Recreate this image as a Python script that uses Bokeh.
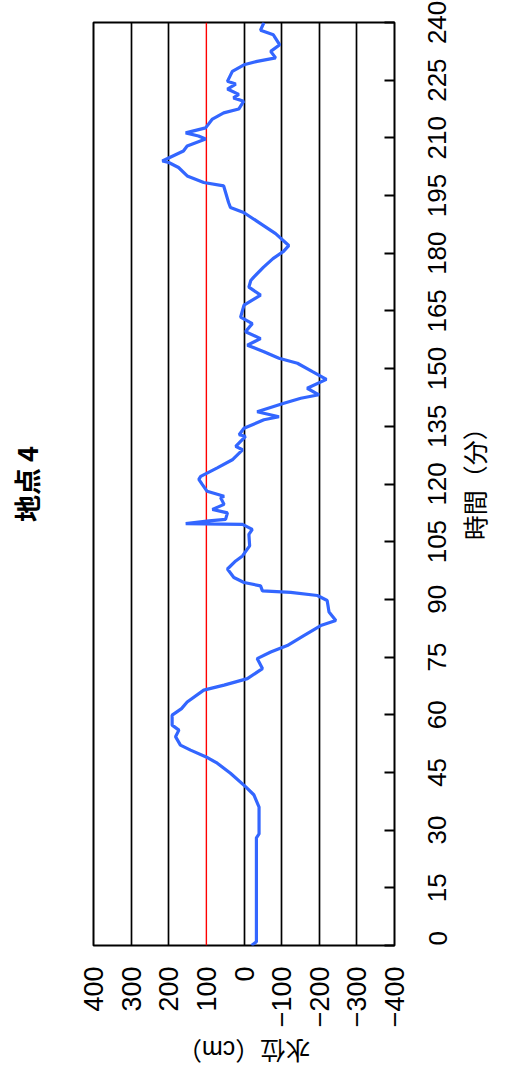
from math import pi
from bokeh.plotting import figure
from bokeh.models import Range1d, FixedTicker, Span, LinearAxis
from bokeh.embed import file_html
from bokeh.resources import INLINE

# ---- data ----
time_min = [0, 1, 28, 29, 36, 39.2, 41.3, 44.8, 47.4, 49.1, 50.8, 52.1, 54.3, 56, 57.3,
            59.9, 61.6, 63.3, 66.4, 67.7, 69.4, 72, 74.6, 76.3, 78, 80.6, 83.2, 84.5,
            86.7, 89.7, 91, 91.8, 92.2, 93.5, 94.4, 95.7, 97.9, 100, 101.3, 103.9,
            106.9, 108.2, 109.5, 109.7, 110.4, 110.8, 112.5, 113.4, 114.7, 116.4,
            116.8, 118.1, 119.9, 121.2, 122, 124.2, 126.3, 128.9, 129.8, 132.4, 132.8,
            134.5, 136.7, 137.5, 138.8, 141, 142.3, 143.2, 144.9, 147.2, 149.2, 151.4,
            152.7, 154.4, 156.1, 157.8, 159.6, 161.7, 163.4, 166.5, 169.1, 171.2,
            172.9, 173.8, 176.4, 178.6, 180.5, 182, 185.1, 187.2, 190.6, 191.9, 193.2,
            197.5, 198.4, 200.1, 202.3, 203.6, 204, 206.6, 207.9, 209.7, 210.5, 211.3,
            212.6, 214.9, 216.5, 217.5, 219.5, 220.4, 221.3, 222.7, 224, 224.7, 227.3,
            229, 229.9, 230.8, 232.5, 234.2, 236.8, 238, 240]
level_cm = [-20, -33, -33, -40, -40, -26, -4, 36, 71, 102, 142, 169, 182, 173, 191,
            191, 166, 151, 107, 53, -9, -49, -35, -71, -115, -159, -204, -244,
            -226, -221, -195, -124, -49, -44, 0, 27, 44, 22, 4, -15,
            -13, -22, 4, 155, 93, 49, 44, 84, 53, 62,
            53, 98, 111, 120, 115, 71, 31, 4, 22, -4, 13,
            0, -53, -93, -35, -106, -151, -199, -168, -219, -182, -142,
            -93, -53, -9, -44, -4, -22, 9, 0, -44, -13,
            -18, -26, -52, -77, -105, -119, -84, -52, 1, 36, 41,
            54, 107, 151, 174, 200, 217, 161, 151, 102, 121, 155,
            102, 84, 54, 14, 1, 28, 14, 44, 22, 44, 31,
            0, -35, -84, -71, -95, -78, -44, -53]

level_ticks = [400, 300, 200, 100, 0, -100, -200, -300, -400]
level_tick_labels = ["400", "300", "200", "100", "0", "−100", "−200", "−300", "−400"]
time_ticks = [0, 15, 30, 45, 60, 75, 90, 105, 120, 135, 150, 165, 180, 195, 210, 225, 240]
time_tick_labels = [str(t) for t in time_ticks]
grid_levels = [300, 200, 0, -100, -200, -300]
warning_level = 100

title_text = "地点 4"
time_label = "時間（分）"
level_label = "水位（cm）"

NUM_FONT = "Liberation Sans"
JP_FONT = "Noto Sans CJK JP"
LABEL_FONT = "Liberation Sans, Noto Sans CJK JP"

# ---- layout (pixels) ----
W, H = 508, 1080
B_LEFT, B_RIGHT, B_TOP, B_BOTTOM = 93, 114, 22, 132
FRAME_W = W - B_LEFT - B_RIGHT
FRAME_H = H - B_TOP - B_BOTTOM

level_range = Range1d(400, -400)
time_range = Range1d(0, 240)
px_per_min = FRAME_H / (time_range.end - time_range.start)
px_per_cm = FRAME_W / abs(level_range.start - level_range.end)

p = figure(width=W, height=H, output_backend="svg", toolbar_location=None,
           x_range=level_range, y_range=time_range,
           y_axis_location="right", title_location=None,
           min_border_left=B_LEFT, min_border_right=B_RIGHT, min_border_top=B_TOP,
           min_border_bottom=B_BOTTOM)

p.background_fill_color = "white"
p.border_fill_color = "white"
p.outline_line_color = "black"
p.outline_line_width = 2

xa = p.below[0]   # level axis
ya = p.right[0]   # time axis

# chart title on the left side, reading upwards
title_axis = LinearAxis(ticker=FixedTicker(ticks=[]), major_tick_out=0, major_tick_in=0,
                        major_tick_line_color=None, minor_tick_line_color=None,
                        minor_tick_out=0, minor_tick_in=0, major_label_standoff=0,
                        axis_line_color=None, axis_label=title_text,
                        axis_label_standoff=48, axis_label_text_font=JP_FONT,
                        axis_label_text_font_size="27px",
                        axis_label_text_font_style="bold",
                        axis_label_text_color="black")
p.add_layout(title_axis, "left")

# ---- level axis (bottom) ----
xa.ticker = FixedTicker(ticks=level_ticks)
xa.major_label_overrides = {t: s for t, s in zip(level_ticks, level_tick_labels)}
xa.major_label_orientation = pi / 2
xa.major_label_text_font = NUM_FONT
xa.major_label_text_font_size = "27px"
xa.major_label_text_color = "black"
xa.major_label_standoff = 21
xa.major_tick_in = 0
xa.major_tick_out = 0
xa.minor_tick_in = 0
xa.minor_tick_out = 0
xa.axis_line_color = None

# level axis title (upside down, centred under the frame)
LEVEL_ANCHOR_PX = FRAME_W / 2 - 67
level_anchor = round(level_range.start - LEVEL_ANCHOR_PX / px_per_cm, 3)
level_title_axis = LinearAxis(ticker=FixedTicker(ticks=[level_anchor]),
                              major_label_overrides={level_anchor: level_label},
                              major_label_orientation=pi, major_label_standoff=19,
                              major_label_text_font=LABEL_FONT,
                              major_label_text_font_size="25px",
                              major_label_text_color="black",
                              major_tick_out=0, major_tick_in=0,
                              major_tick_line_color=None, minor_tick_line_color=None,
                              minor_tick_out=0, minor_tick_in=0,
                              axis_line_color=None)
p.add_layout(level_title_axis, "below")

# ---- time axis (right) ----
TICK_PX = 26
digit_px = 0.556 * TICK_PX
label_anchor = [round(max(time_range.start, t - len(s) * digit_px / 2 / px_per_min), 4)
                for t, s in zip(time_ticks, time_tick_labels)]
ya.ticker = FixedTicker(ticks=label_anchor, minor_ticks=time_ticks)
ya.major_label_overrides = {a: s for a, s in zip(label_anchor, time_tick_labels)}
ya.major_label_orientation = pi / 2
ya.major_label_text_font = NUM_FONT
ya.major_label_text_font_size = f"{TICK_PX}px"
ya.major_label_text_color = "black"
ya.major_label_standoff = 43
ya.major_tick_in = 0
ya.major_tick_out = 0
ya.major_tick_line_color = None
ya.minor_tick_in = 10
ya.minor_tick_out = 0
ya.minor_tick_line_width = 2
ya.minor_tick_line_color = "black"
ya.axis_line_color = None

# time axis title (reads upwards, centred beside the frame)
TIME_LABEL_PX = 125
time_anchor = round((FRAME_H / 2 - TIME_LABEL_PX / 2 + 6) / px_per_min, 3)
time_title_axis = LinearAxis(ticker=FixedTicker(ticks=[time_anchor]),
                             major_label_overrides={time_anchor: time_label},
                             major_label_orientation=pi / 2, major_label_standoff=18,
                             major_label_text_font=LABEL_FONT,
                             major_label_text_font_size="25px",
                             major_label_text_color="black",
                             major_tick_out=0, major_tick_in=0,
                             major_tick_line_color=None, minor_tick_line_color=None,
                             minor_tick_out=0, minor_tick_in=0,
                             axis_line_color=None)
p.add_layout(time_title_axis, "right")

# ---- grid and threshold ----
p.xgrid.ticker = FixedTicker(ticks=grid_levels)
p.xgrid.grid_line_color = "black"
p.xgrid.grid_line_width = 1.7
p.xgrid.grid_line_alpha = 1.0
p.ygrid.visible = False

p.add_layout(Span(location=warning_level, dimension="height", line_color="red",
                  line_width=1.4, level="underlay"))

p.line(level_cm, time_min, line_color="#3366ff", line_width=3.2)

open("out.html", "w").write(file_html(p, INLINE))
